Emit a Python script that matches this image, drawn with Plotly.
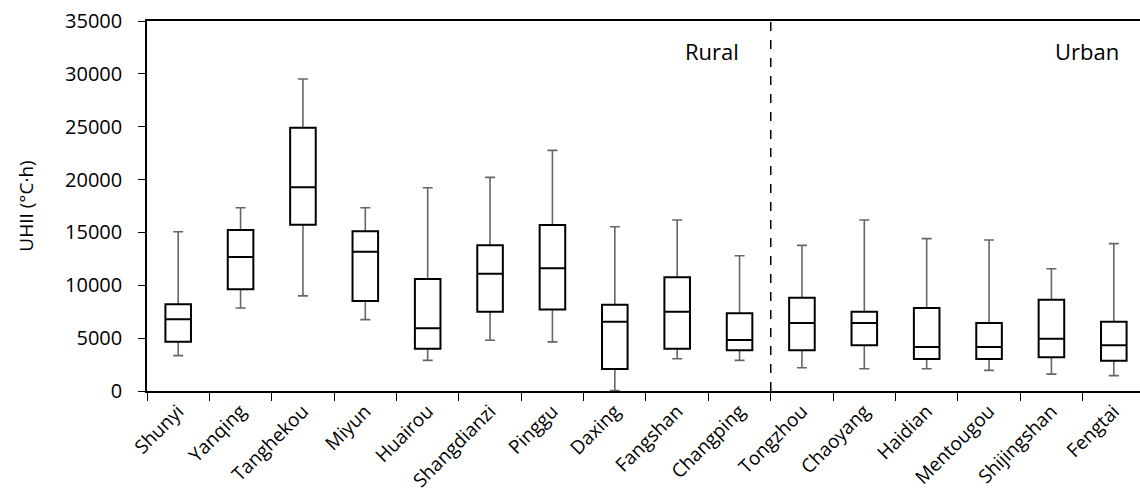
import plotly.graph_objects as go
import numpy as np

categories = ["Shunyi", "Yanqing", "Tanghekou", "Miyun", "Huairou", "Shangdianzi",
              "Pinggu", "Daxing", "Fangshan", "Changping", "Tongzhou", "Chaoyang",
              "Haidian", "Mentougou", "Shijingshan", "Fengtai"]
whisker_low = [3350, 7850, 9000, 6750, 2900, 4800, 4650, 50, 3050, 2900,
               2200, 2100, 2100, 1950, 1600, 1450]
q1 = [4670, 9620, 15730, 8510, 4000, 7500, 7700, 2080, 4000, 3850,
      3850, 4320, 3030, 3030, 3200, 2870]
median = [6780, 12680, 19270, 13180, 5930, 11100, 11600, 6560, 7500, 4820,
          6430, 6430, 4160, 4160, 4950, 4320]
q3 = [8200, 15230, 24910, 15100, 10600, 13780, 15700, 8170, 10750, 7350,
      8830, 7500, 7850, 6430, 8640, 6560]
whisker_high = [15070, 17340, 29510, 17340, 19230, 20210, 22760, 15540, 16170, 12800,
                13780, 16170, 14410, 14280, 11570, 13940]

y_ticks = [0, 5000, 10000, 15000, 20000, 25000, 30000, 35000]

FONT = "Open Sans"

med = np.array(median)
fig = go.Figure()

# whiskers (drawn beneath the boxes)
fig.add_trace(go.Bar(
    x=categories, y=median,
    marker=dict(color="rgba(0,0,0,0)", line=dict(width=0)),
    error_y=dict(type="data", symmetric=False,
                 array=(np.array(whisker_high) - med).tolist(),
                 arrayminus=(med - np.array(whisker_low)).tolist(),
                 color="#666666", thickness=1.6, width=5),
    hoverinfo="skip", showlegend=False,
))

fig.add_trace(go.Box(
    x=categories, q1=q1, median=median, q3=q3,
    lowerfence=q1, upperfence=q3,
    fillcolor="white", line=dict(color="black", width=2),
    width=0.41, boxpoints=False, showlegend=False,
))

fig.add_shape(type="line", x0=9.5, x1=9.5, y0=0, y1=35000, xref="x", yref="y",
              line=dict(color="black", width=1.5, dash="dash"))

fig.add_annotation(x=9.02, y=32200, xref="x", yref="y", text="Rural", showarrow=False,
                   xanchor="right", yanchor="middle", font=dict(family=FONT, size=22, color="black"))
fig.add_annotation(x=15.11, y=32200, xref="x", yref="y", text="Urban", showarrow=False,
                   xanchor="right", yanchor="middle", font=dict(family=FONT, size=22, color="black"))

fig.update_layout(
    width=1140, height=502,
    margin=dict(l=147, r=0, t=21, b=111),
    plot_bgcolor="white", paper_bgcolor="white",
    font=dict(family=FONT, size=20, color="black"),
    showlegend=False,
    xaxis=dict(
        range=[-0.5, 15.42], showgrid=False, zeroline=False, automargin=False,
        showline=True, linecolor="black", linewidth=1.5, mirror=True,
        ticks="outside", ticklen=8, tickcolor="black", tickwidth=1.2,
        tickson="boundaries", tickangle=-45,
        tickfont=dict(family=FONT, size=19, color="black"),
    ),
    yaxis=dict(
        range=[0, 35000], tickvals=y_ticks, tickformat="d",
        showgrid=False, zeroline=False, automargin=False,
        showline=True, linecolor="black", linewidth=1.5,
        ticks="outside", ticklen=7, tickcolor="black", tickwidth=1.2,
        ticklabelstandoff=12,
        tickfont=dict(family=FONT, size=20, color="black"),
        title=dict(text="UHII (°C·h)", standoff=26, font=dict(family=FONT, size=19, color="black")),
    ),
)

fig.write_html("out.html", config={"displayModeBar": False},
               post_script="document.body.style.margin='0';document.body.style.overflow='hidden';")
